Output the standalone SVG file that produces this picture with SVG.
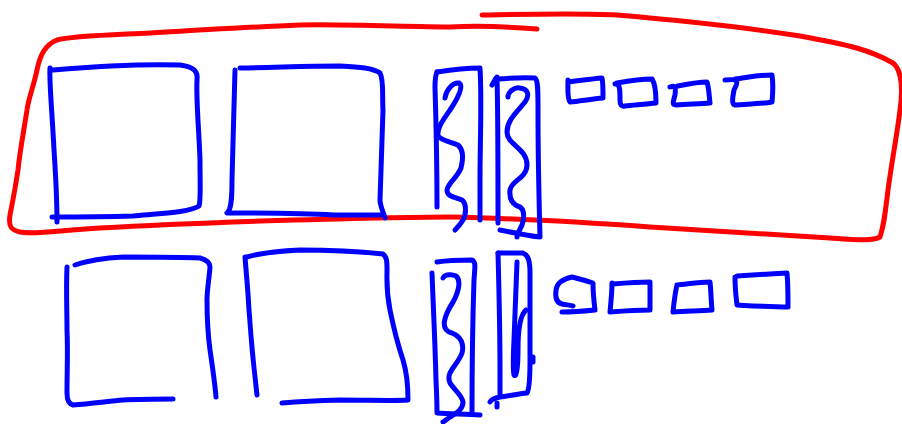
<svg xmlns="http://www.w3.org/2000/svg" width="902" height="424" viewBox="0 0 902 424">
<style>
path{fill:none;stroke-width:5;stroke-linecap:round;stroke-linejoin:round}
.b{stroke:#0000ff}
.r{stroke:#ff0000}
</style>
<rect width="902" height="424" fill="#ffffff"/>
<g id="group-outline">
<path class="r" d="M537,29 C500,26 470,26 450,27 C380,26 330,24 300,25 C250,27 200,30 150,33 C110,35 70,36 57,40 C45,45 40,55 37,70 C34,85 28,100 27,110 C24,130 20,150 18,170 C15,190 12,205 10,215 C8,228 12,230 20,232 C35,235 60,230 100,228 C150,225 200,223 260,221 C330,219 400,217 450,217 C500,218 580,222 650,227 C720,231 783,235 830,238 C860,240 873,241 880,237 C884,225 885,215 888,190 C892,160 897,135 900,110 C903,90 902,70 893,63 C870,50 850,45 800,36 C750,28 700,22 617,15 C580,13 540,14 482,15"/>
</g>
<g id="box-1">
<path class="b" d="M53,70 C100,66 150,64 180,65 C195,67 198,72 197,80 C196,100 199,130 200,160 C200,185 201,200 199,206 C190,212 167,213 133,216 C100,217 70,217 52,217"/>
<path class="b" d="M50,68 C49,80 52,110 54,150 C56,180 57,200 57,222"/>
</g>
<g id="box-2">
<path class="b" d="M240,68 C270,68 300,66 340,66 C360,67 373,68 380,73 C384,80 382,95 383,110 C382,140 381,170 380,200 C380,205 383,212 385,218"/>
<path class="b" d="M235,70 C234,100 233,140 232,180 C232,200 231,210 227,213 C250,213 300,213 333,215 C350,215 370,215 380,215"/>
</g>
<g id="panel-1">
<path class="b" d="M437,72 C450,70 465,68 480,68 C482,100 480,140 480,180 C480,200 480,212 480,220"/>
<path class="b" d="M435,87 C435,78 436,74 437,72 M435,87 C436,120 437,160 437,207"/>
<path class="b" d="M445,98 C446,90 453,82 459,83 C464,86 458,98 450,110 C443,120 437,128 438,136 C442,141 452,142 458,145 C464,150 463,160 461,168 C457,178 448,183 447,190 C447,197 455,197 462,200 C467,204 466,215 463,220 C460,225 457,228 455,230"/>
</g>
<g id="panel-2">
<path class="b" d="M492,85 C495,80 496,77 497,77 C498,110 498,160 498,223"/>
<path class="b" d="M497,79 C510,78 525,77 535,78 C538,80 538,90 538,110 C538,150 539,200 540,237 C530,236 515,233 500,230"/>
<path class="b" d="M508,97 C508,92 514,87 520,88 C528,89 530,95 525,102 C517,112 507,120 507,132 C507,145 527,148 527,165 C527,178 511,181 510,190 C509,200 513,205 520,207 C525,210 524,220 522,225 C520,230 517,233 517,237"/>
</g>
<g id="cell-1"><path class="b" d="M568,80 C568,90 567,98 570,102 C580,101 592,99 603,98 C603,90 603,82 602,78 C590,79 578,81 568,82"/></g>
<g id="cell-2"><path class="b" d="M615,84 C620,83 620,90 620,100 C620,104 621,107 625,106 C635,105 647,104 656,103 C656,95 656,85 652,79 C640,79 628,81 617,83"/></g>
<g id="cell-3"><path class="b" d="M670,87 C675,85 676,86 675,95 C673,102 672,105 676,105 C688,104 700,104 710,103 C709,95 709,88 707,82 C697,82 688,84 678,86"/></g>
<g id="cell-4"><path class="b" d="M725,80 C737,79 740,79 734,90 C733,96 731,104 735,105 C748,104 762,104 772,102 C773,92 773,82 772,75 C758,75 745,78 735,79"/></g>
<g id="box-3">
<path class="b" d="M75,265 C90,260 105,258 123,257 C150,257 180,257 200,258 C207,260 210,263 210,267 C209,280 207,290 207,300 C207,320 208,335 210,350 C213,370 215,385 216,397"/>
<path class="b" d="M67,267 C66,290 67,310 67,330 C68,350 67,370 67,393 C67,400 69,404 73,405 C90,404 110,401 123,400 C140,399 160,399 173,399"/>
</g>
<g id="box-4">
<path class="b" d="M245,257 C246,270 248,290 249,310 C251,340 254,370 257,395"/>
<path class="b" d="M247,257 C260,253 280,251 300,250 C330,250 355,251 383,254 C387,257 387,262 387,270 C387,280 386,290 390,310 C394,330 398,345 403,360 C407,373 408,385 408,400 C395,401 370,400 340,400 C310,401 295,402 282,403"/>
</g>
<g id="panel-3">
<path class="b" d="M437,262 C450,260 465,260 472,260 C476,262 475,266 474,280 C473,310 472,360 472,413"/>
<path class="b" d="M432,273 C433,300 435,340 436,380 C437,400 437,410 437,413 C450,414 465,414 480,415"/>
<path class="b" d="M443,278 C445,274 452,274 456,276 C462,281 458,295 450,307 C444,318 440,330 452,333 C462,337 464,345 462,353 C458,365 445,372 450,383 C456,392 462,395 463,402 C463,410 455,414 450,417 C447,419 445,421 443,422"/>
</g>
<g id="panel-4">
<path class="b" d="M498,253 C499,290 500,330 500,370 C500,385 500,392 500,394"/>
<path class="b" d="M498,253 C508,253 518,253 523,253 C528,255 530,260 530,273 C530,300 530,330 530,360 C530,380 529,390 527,393 C518,394 508,396 500,397 C495,398 491,400 490,402"/>
<path class="b" d="M497,403 C497,405 497,406 497,407"/>
<path class="b" d="M517,262 C516,285 515,310 514,340 C513,360 513,370 514,375 C516,378 518,370 518,350 C518,330 520,315 526,310"/>
<path class="b" d="M533,357 C533,359 533,361 533,362"/>
</g>
<g id="cell-5"><path class="b" d="M572,277 C562,279 557,283 556,290 C555,298 557,303 562,304 C567,305 571,305 573,306 M572,277 C580,279 587,281 593,283 C593,293 594,302 595,310 C585,311 573,312 562,312"/></g>
<g id="cell-6"><path class="b" d="M612,283 C612,292 611,302 610,312 C623,311 637,310 650,310 C650,300 650,290 650,282 C638,282 625,283 613,284"/></g>
<g id="cell-7"><path class="b" d="M677,285 C675,293 674,302 673,312 C686,311 699,311 712,310 C711,300 711,290 710,282 C699,282 688,284 677,285"/></g>
<g id="cell-8"><path class="b" d="M735,277 C735,288 736,297 737,305 C755,306 772,307 788,307 C788,295 788,283 787,273 C770,274 752,275 737,276"/></g>
</svg>
